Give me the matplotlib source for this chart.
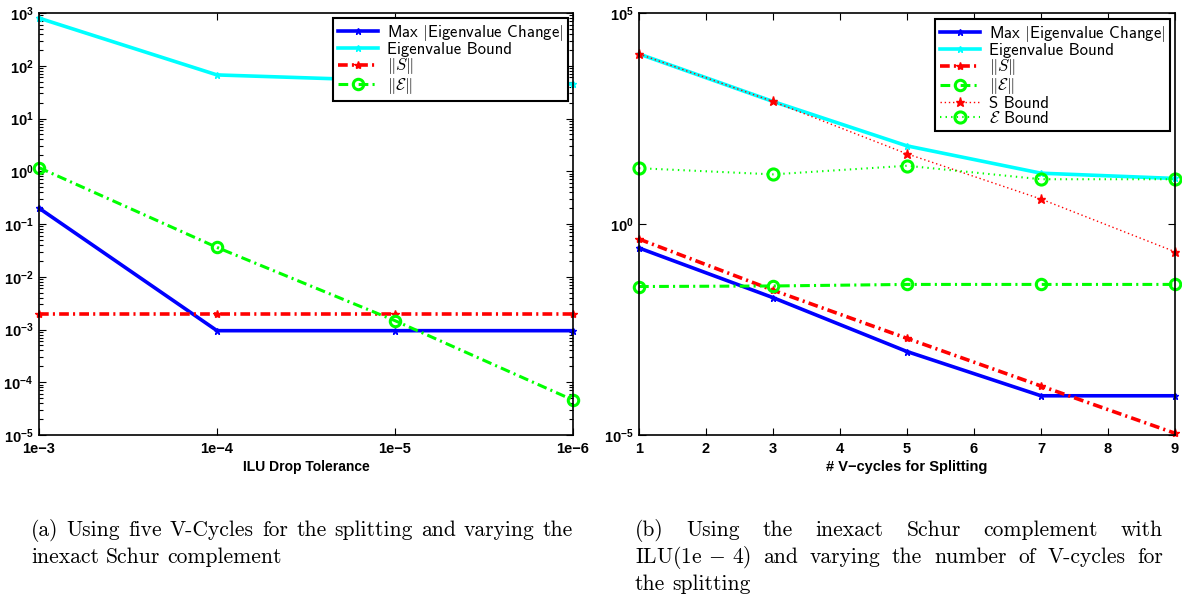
import matplotlib
matplotlib.use("Agg")
import matplotlib.pyplot as plt
import numpy as np
from matplotlib.ticker import FixedLocator, LogLocator, NullLocator, FuncFormatter, NullFormatter

plt.rcParams['font.family'] = ['Liberation Sans', 'DejaVu Sans']
plt.rcParams['mathtext.fontset'] = 'custom'
plt.rcParams['mathtext.rm'] = 'Liberation Sans:bold'
plt.rcParams['mathtext.it'] = 'Liberation Sans:bold'
plt.rcParams['mathtext.bf'] = 'Liberation Sans:bold'
plt.rcParams['mathtext.sf'] = 'Liberation Sans:bold'
plt.rcParams['lines.scale_dashes'] = False

# ---- (a) varying the ILU drop tolerance, five V-cycles ----
tol_labels = ['1e\u22123', '1e\u22124', '1e\u22125', '1e\u22126']
a_max_change = [0.2, 9.5e-4, 9.5e-4, 9.5e-4]
a_eig_bound = [800, 67, 52, 45]
a_S_norm = [1.95e-3, 1.95e-3, 1.95e-3, 1.95e-3]
a_E_norm = [1.17, 0.036, 1.47e-3, 4.6e-5]

# ---- (b) varying the number of V-cycles, ILU(1e-4) ----
vcycles = [1, 3, 5, 7, 9]
b_max_change = [0.27, 0.018, 9.5e-4, 8.5e-5, 8.5e-5]
b_eig_bound = [1.07e4, 800, 71, 16, 12]
b_S_norm = [0.44, 0.027, 1.95e-3, 1.45e-4, 1.1e-5]
b_E_norm = [0.033, 0.034, 0.037, 0.037, 0.037]
b_S_bound = [1.07e4, 800, 46, 3.9, 0.22]
b_E_bound = [21, 15, 24, 11.5, 11.5]

labels = ['Max $|$Eigenvalue Change$|$', 'Eigenvalue Bound',
          r'$\|S\|$', r'$\|\mathcal{E}\|$', 'S Bound', r'$\mathcal{E}$ Bound']

W, H = 1182, 598
fig = plt.figure(figsize=(W / 100, H / 100), dpi=100)

def px_axes(x0, x1, y0, y1):
    return fig.add_axes([x0 / W, 1 - y1 / H, (x1 - x0) / W, (y1 - y0) / H])

axA = px_axes(39, 573, 13, 435)
axB = px_axes(639, 1175, 13, 435)

BLUE, CYAN, RED, GREEN = '#0000ff', '#00ffff', '#ff0000', '#00ff00'
DASHDOT = (0, (7, 3, 1.5, 3))

styles = [
    dict(color=BLUE, lw=2.6, marker='*', ms=5),
    dict(color=CYAN, lw=2.6, marker='*', ms=5),
    dict(color=RED, lw=2.6, ls=DASHDOT, marker='*', ms=6),
    dict(color=GREEN, lw=2.2, ls=DASHDOT, marker='o', ms=7.5, mfc='none', mew=2.2),
    dict(color=RED, lw=1.0, ls=(0, (1, 2)), marker='*', ms=6.5),
    dict(color=GREEN, lw=1.5, ls=(0, (1, 3)), marker='o', ms=8, mfc='none', mew=2.2),
]

xa = np.arange(len(tol_labels))
for series, st, lab in zip([a_max_change, a_eig_bound, a_S_norm, a_E_norm], styles, labels):
    axA.semilogy(xa, series, label=lab, clip_on=False, **st)

for series, st, lab in zip([b_max_change, b_eig_bound, b_S_norm, b_E_norm, b_S_bound, b_E_bound],
                           styles, labels):
    axB.semilogy(vcycles, series, label=lab, clip_on=False, **st)

pow_fmt = FuncFormatter(lambda v, p: r'$\mathbf{10^{%d}}$' % int(round(np.log10(v))))

axA.set_xlim(0, 3)
axA.set_ylim(1e-5, 1e3)
axA.set_xticks(xa)
axA.set_xticklabels(tol_labels)
axA.yaxis.set_major_locator(LogLocator(base=10, numticks=20))
axA.yaxis.set_minor_locator(LogLocator(base=10, subs=np.arange(2, 10), numticks=20))
axA.yaxis.set_minor_formatter(NullFormatter())
axA.yaxis.set_major_formatter(pow_fmt)
axA.set_xlabel('ILU Drop Tolerance', fontsize=10, fontweight='bold', labelpad=3)

axB.set_xlim(1, 9)
axB.set_ylim(1e-5, 1e5)
axB.set_xticks(range(1, 10))
axB.yaxis.set_major_locator(FixedLocator([1e-5, 1e0, 1e5]))
axB.yaxis.set_minor_locator(NullLocator())
axB.yaxis.set_major_formatter(pow_fmt)
axB.set_xlabel('# V\u2212cycles for Splitting', fontsize=10.5, fontweight='bold', labelpad=3)

for ax in (axA, axB):
    ax.tick_params(which='both', direction='in', top=True, right=True, width=0.8)
    ax.tick_params(which='major', length=5, labelsize=10.5)
    ax.tick_params(axis='x', which='major', pad=5)
    ax.tick_params(axis='y', which='major', pad=4)
    ax.tick_params(which='minor', length=3)
    for lab in ax.get_xticklabels() + ax.get_yticklabels():
        lab.set_fontweight('bold')
    for s in ax.spines.values():
        s.set_linewidth(1.2)

def add_legend(ax, x_right, y_top):
    leg = ax.legend(loc='upper right', bbox_to_anchor=(x_right / W, 1 - y_top / H),
                    bbox_transform=fig.transFigure, borderaxespad=0,
                    fancybox=False, framealpha=1, edgecolor='black',
                    prop=dict(family='cmss10', size=12), handlelength=2.4,
                    handletextpad=0.55, labelspacing=-0.05, borderpad=0.3,
                    numpoints=1)
    leg.get_frame().set_linewidth(1.5)
    for t in leg.get_texts():
        t.set_math_fontfamily('cm')
    return leg

add_legend(axA, 568, 18)
add_legend(axB, 1170, 19)

# ---- captions (justified lines, '_' keeps a token together) ----
cap_kw = dict(family=['cmr10', 'DejaVu Serif'], size=15.5, va='baseline', ha='left',
              math_fontfamily='cm')

def caption_line(text, x0, y, x1=None):
    words = [w.replace('_', ' ') for w in text.split(' ')]
    texts = [fig.text(0, 1 - y / H, w, **cap_kw) for w in words]
    r = fig.canvas.get_renderer()
    widths = [t.get_window_extent(r).width for t in texts]
    space = fig.text(0, 0, 'a b', **cap_kw)
    s2 = fig.text(0, 0, 'ab', **cap_kw)
    gap = space.get_window_extent(r).width - s2.get_window_extent(r).width
    space.remove()
    s2.remove()
    if x1 is not None:
        gap = (x1 - x0 - sum(widths)) / (len(words) - 1)
    x = x0
    for t, w in zip(texts, widths):
        t.set_x(x / W)
        x += w + gap

caption_line('(a) Using five V-Cycles for the splitting and varying the', 31, 536, 573)
caption_line('inexact Schur complement', 31, 563)
caption_line('(b) Using the inexact Schur complement with', 635, 536, 1163)
caption_line('ILU(1e_$-$_4) and varying the number of V-cycles for', 635, 563, 1163)
caption_line('the splitting', 635, 590)

fig.savefig('out.png', dpi=100)
